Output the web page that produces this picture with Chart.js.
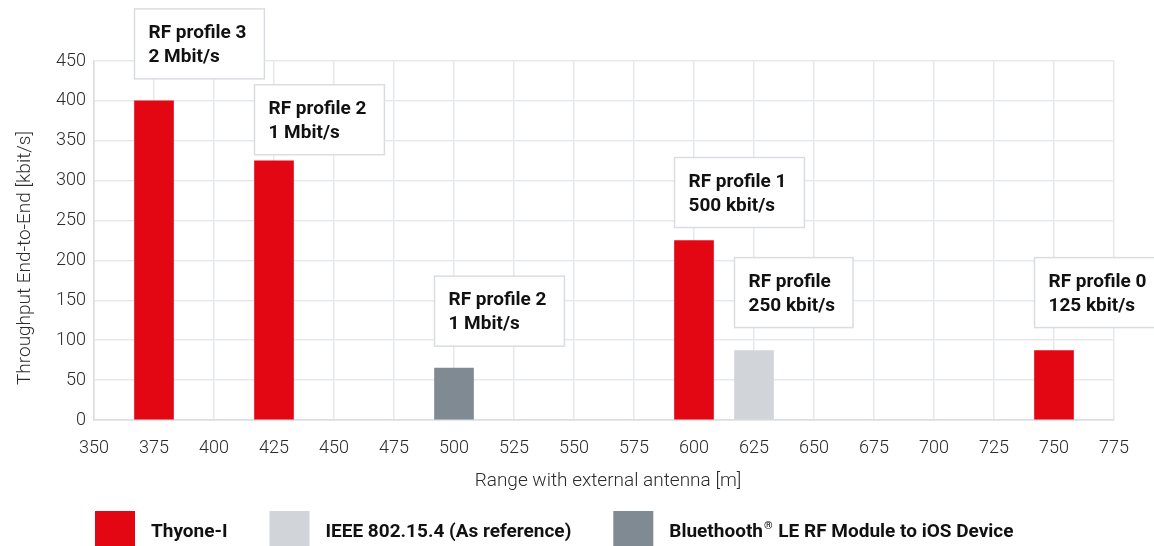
<!DOCTYPE html>
<html>
<head>
<meta charset="utf-8">
<script src="https://cdn.jsdelivr.net/npm/chart.js@4/dist/chart.umd.min.js"></script>
<style>
  html, body { margin: 0; padding: 0; background: #fff; }
  #wrap { width: 1154px; height: 546px; }
</style>
</head>
<body>
<div id="wrap"><canvas id="rangeChart" width="1154" height="546"></canvas></div>
<script>
// range [m] and end-to-end throughput [kbit/s] per device
const thyoneRange = [375, 425, 600, 750];
const thyoneThroughput = [400, 325, 225, 87];
const ieeeRange = [625];
const ieeeThroughput = [87];
const bleRange = [500];
const bleThroughput = [65];

// RF profile callouts, one per bar, same order as the data above
const thyoneProfiles = [['RF profile 3', '2 Mbit/s'], ['RF profile 2', '1 Mbit/s'], ['RF profile 1', '500 kbit/s'], ['RF profile 0', '125 kbit/s']];
const ieeeProfiles = [['RF profile', '250 kbit/s']];
const bleProfiles = [['RF profile 2', '1 Mbit/s']];

// gap between the callout box and the top of its bar (px)
const thyoneLift = [22, 6, 13, 23];
const ieeeLift = [23];
const bleLift = [22];

const seriesNames = ['Thyone-I', 'IEEE 802.15.4 (As reference)', 'Bluethooth® LE RF Module to iOS Device'];

const RED = '#e30613';
const LIGHT = '#d1d5d9';
const DARK = '#808a93';
const GRID = '#e6e9ec';
const TEXT = '#2b2b2b';
const BOLD = 'bold 19px Roboto, "Noto Sans", sans-serif';

function points(xs, ys) {
    return xs.map((x, i) => ({ x: x, y: ys[i] }));
}

// callout boxes above the bars
const calloutPlugin = {
    id: 'callouts',
    afterDatasetsDraw(chart) {
        const ctx = chart.ctx;
        ctx.save();
        ctx.font = BOLD;
        chart.data.datasets.forEach((ds, di) => {
            const meta = chart.getDatasetMeta(di);
            meta.data.forEach((bar, i) => {
                const lines = ds.profiles[i];
                const left = bar.x - bar.width / 2;
                const h = 70;
                const top = bar.y - ds.lift[i] - h;
                const w = Math.max(...lines.map(t => ctx.measureText(t).width)) + 32;
                ctx.fillStyle = '#fff';
                ctx.fillRect(left, top, w, h);
                ctx.strokeStyle = '#d9dde1';
                ctx.lineWidth = 1.5;
                ctx.strokeRect(left, top, w, h);
                ctx.fillStyle = '#111';
                ctx.textBaseline = 'alphabetic';
                ctx.textAlign = 'left';
                ctx.fillText(lines[0], left + 14, top + 29);
                ctx.fillText(lines[1], left + 14, top + 53);
            });
        });
        ctx.restore();
    }
};

// writes a label with the ® sign raised and smaller, returns its width
function drawLegendText(ctx, text, x, y) {
    const parts = text.split('®');
    let cx = x;
    parts.forEach((part, i) => {
        ctx.font = BOLD;
        ctx.fillText(part, cx, y);
        cx += ctx.measureText(part).width;
        if (i < parts.length - 1) {
            ctx.font = 'bold 11px Roboto, "Noto Sans", sans-serif';
            ctx.fillText('®', cx + 1, y - 8);
            cx += ctx.measureText('®').width + 2;
        }
    });
    return cx - x;
}

// axis titles and the legend row under the chart
const framePlugin = {
    id: 'frame',
    afterDraw(chart) {
        const ctx = chart.ctx;
        const area = chart.chartArea;
        ctx.save();
        ctx.fillStyle = TEXT;
        ctx.font = '300 19px Roboto, "Noto Sans", sans-serif';
        ctx.textAlign = 'center';
        ctx.textBaseline = 'middle';
        ctx.fillText('Range with external antenna [m]', (area.left + area.right) / 2 + 4, 481);

        ctx.save();
        ctx.translate(25, 258);
        ctx.rotate(-Math.PI / 2);
        ctx.fillText('Throughput End-to-End [kbit/s]', 0, 0);
        ctx.restore();

        ctx.textAlign = 'left';
        ctx.textBaseline = 'alphabetic';
        let x = area.left + 1;
        chart.data.datasets.forEach(ds => {
            ctx.fillStyle = ds.backgroundColor;
            ctx.fillRect(x, 511, 40, 35);
            ctx.fillStyle = '#111';
            const w = drawLegendText(ctx, ds.label, x + 56, 537);
            x += 56 + w + 42;
        });
        ctx.restore();
    }
};

new Chart(document.getElementById('rangeChart'), {
    type: 'bar',
    data: {
        datasets: [
            { label: seriesNames[0], data: points(thyoneRange, thyoneThroughput), backgroundColor: RED, profiles: thyoneProfiles, lift: thyoneLift },
            { label: seriesNames[1], data: points(ieeeRange, ieeeThroughput), backgroundColor: LIGHT, profiles: ieeeProfiles, lift: ieeeLift },
            { label: seriesNames[2], data: points(bleRange, bleThroughput), backgroundColor: DARK, profiles: bleProfiles, lift: bleLift }
        ]
    },
    options: {
        responsive: false,
        animation: false,
        grouped: false,
        barThickness: 39,
        layout: { padding: { left: 0, right: 40, top: 61, bottom: 50 } },
        plugins: {
            legend: { display: false },
            tooltip: { enabled: false }
        },
        scales: {
            x: {
                type: 'linear',
                min: 350,
                max: 775,
                offset: false,
                grid: { color: GRID, lineWidth: 1.5, drawTicks: false, offset: false },
                border: { color: '#dadee2', width: 1.5 },
                ticks: {
                    stepSize: 25,
                    padding: 18,
                    color: TEXT,
                    font: { family: 'Roboto, "Noto Sans", sans-serif', size: 18, weight: 300 }
                },
                afterFit(scale) { scale.height = 76; }
            },
            y: {
                min: 0,
                max: 450,
                grid: { color: GRID, lineWidth: 1.5, drawTicks: false },
                border: { color: '#dadee2', width: 1.5 },
                ticks: {
                    stepSize: 50,
                    padding: 8,
                    color: TEXT,
                    font: { family: 'Roboto, "Noto Sans", sans-serif', size: 18, weight: 300 }
                },
                afterFit(scale) { scale.width = 94; }
            }
        }
    },
    plugins: [calloutPlugin, framePlugin]
});
</script>
</body>
</html>
